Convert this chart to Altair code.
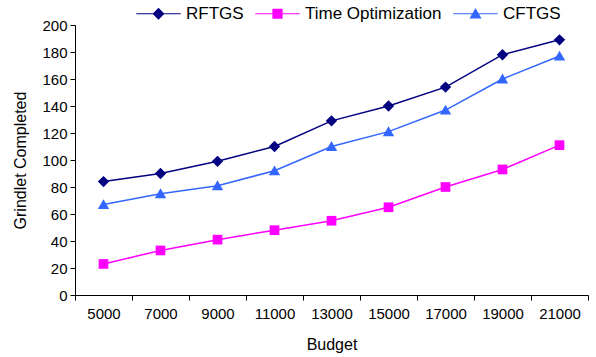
import altair as alt
import pandas as pd

budget = ["5000", "7000", "9000", "11000", "13000", "15000", "17000", "19000", "21000"]
series = ["RFTGS", "Time Optimization", "CFTGS"]
rftgs = [84, 90, 99, 110, 129, 140, 154, 178, 189]
time_opt = [23, 33, 41, 48, 55, 65, 80, 93, 111]
cftgs = [67, 75, 81, 92, 110, 121, 137, 160, 177]
colors = ["#000080", "#FF00FF", "#3366FF"]
y_ticks = list(range(0, 201, 20))

rows = []
for name, vals in zip(series, [rftgs, time_opt, cftgs]):
    for b, v in zip(budget, vals):
        rows.append({"Budget": b, "Value": v, "Series": name})
df = pd.DataFrame(rows)

# marker shapes (unit box -1..1)
diamond = "M0,-1L1,0L0,1L-1,0Z"
square = "M-0.85,-0.85H0.85V0.85H-0.85Z"
triangle = "M0,-0.95L1,0.8H-1Z"
plot_paths = [diamond, square, triangle]
line_seg = "M-3.7,-0.07H3.7V0.07H-3.7Z "
legend_paths = [line_seg + p for p in plot_paths]

FONT = "Liberation Sans"

base = alt.Chart(df).encode(
    x=alt.X(
        "Budget:O",
        sort=budget,
        scale=alt.Scale(type="band", paddingInner=0, paddingOuter=0),
        axis=alt.Axis(
            title="Budget",
            labelAngle=0,
            tickBand="extent",
            tickSize=5,
            labelPadding=6,
            titlePadding=15,
            domainColor="black",
            tickColor="black",
        ),
    ),
    y=alt.Y(
        "Value:Q",
        scale=alt.Scale(domain=[0, 200], nice=False),
        axis=alt.Axis(
            title="Grindlet Completed",
            values=y_ticks,
            tickSize=5,
            labelPadding=3,
            titlePadding=13,
            domainColor="black",
            tickColor="black",
        ),
    ),
)

lines = base.mark_line(strokeWidth=1.5).encode(
    color=alt.Color("Series:N", sort=series,
                    scale=alt.Scale(domain=series, range=colors), legend=None),
    detail="Series:N",
)

points = base.mark_point(filled=True, opacity=1, size=130).encode(
    color=alt.Color("Series:N", sort=series,
                    scale=alt.Scale(domain=series, range=colors), legend=None),
    shape=alt.Shape("Series:N", sort=series,
                    scale=alt.Scale(domain=series, range=plot_paths), legend=None),
)

leg = alt.Legend(
    orient="none",
    legendX=75,
    legendY=-20,
    direction="horizontal",
    title=None,
    symbolSize=144,
    labelFontSize=17,
    labelFont=FONT,
    labelColor="black",
    labelOffset=19,
    columnPadding=11,
    symbolOffset=0,
    symbolStrokeWidth=0,
)

legend_layer = base.mark_point(filled=True, opacity=1, size=144).encode(
    color=alt.Color("Series:N", sort=series,
                    scale=alt.Scale(domain=series, range=colors), legend=leg),
    shape=alt.Shape("Series:N", sort=series,
                    scale=alt.Scale(domain=series, range=legend_paths), legend=leg),
).transform_filter("false")

chart = (
    alt.layer(lines, points, legend_layer)
    .resolve_scale(shape="independent", color="independent")
    .properties(
        width=513,
        height=270,
        autosize=alt.AutoSizeParams(type="none"),
        padding={"left": 75, "top": 25, "right": 8, "bottom": 62},
    )
    .configure_view(stroke=None)
    .configure_axis(
        grid=False,
        labelFont=FONT,
        titleFont=FONT,
        labelFontSize=15,
        titleFontSize=16,
        titleFontWeight="normal",
        labelColor="black",
        titleColor="black",
    )
)

chart.save("out.html", embed_options={"renderer": "svg", "actions": False})
